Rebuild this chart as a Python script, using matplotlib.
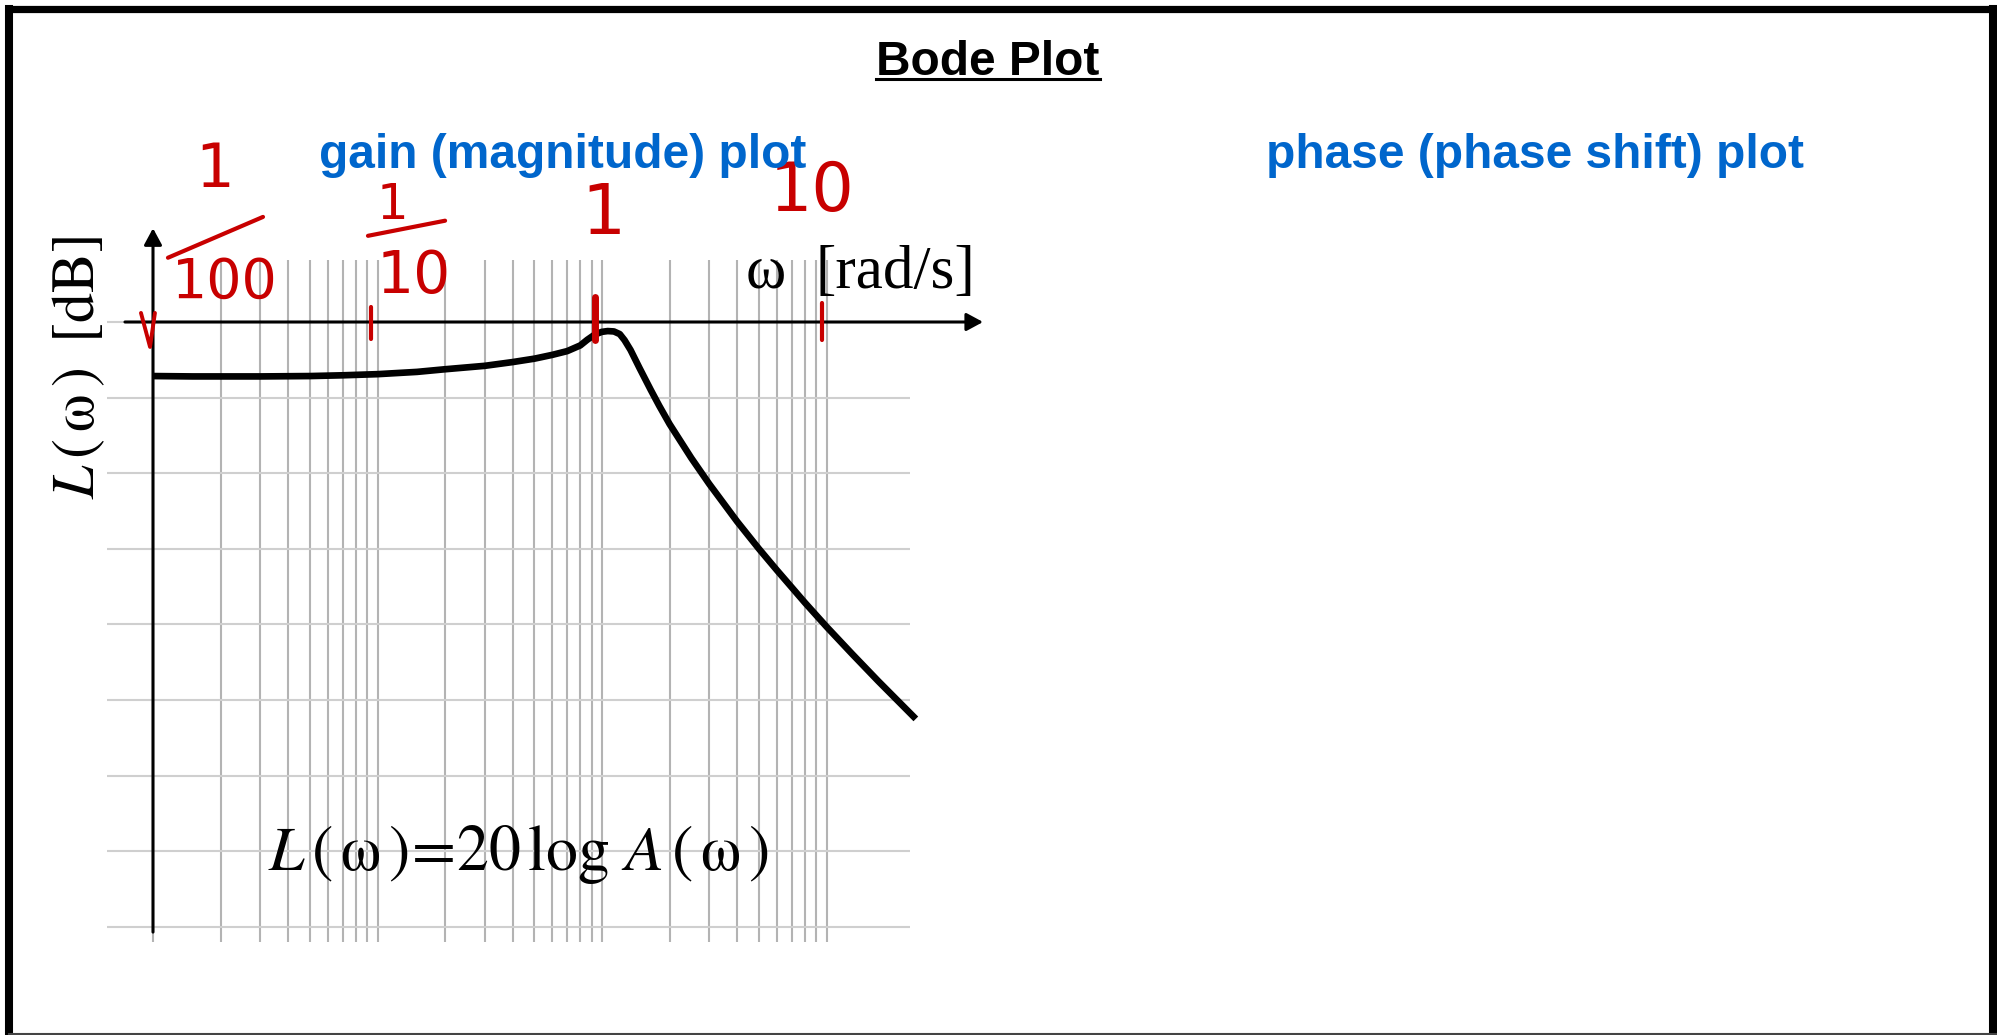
import matplotlib
matplotlib.use("Agg")
import matplotlib.pyplot as plt
from matplotlib.lines import Line2D

plt.rcParams["mathtext.fontset"] = "stix"

# ---- data ---------------------------------------------------------------
# gain curve L(ω) in dB over angular frequency ω (rad/s)
omega = [0.01, 0.015, 0.02, 0.03, 0.05, 0.07, 0.1, 0.15, 0.2, 0.3, 0.4, 0.5,
         0.6, 0.7, 0.8, 0.86, 0.93, 1.0, 1.06, 1.13, 1.2, 1.26, 1.34, 1.47,
         1.65, 1.8, 2.0, 2.5, 3.0, 4.0, 5.0, 6.0, 7.0, 8.0, 10.0, 13.0, 17.0,
         25.0]
gain_db = [-7.15, -7.2, -7.2, -7.2, -7.15, -7.05, -6.9, -6.6, -6.25, -5.8,
           -5.3, -4.85, -4.35, -3.85, -3.1, -2.35, -1.65, -1.3, -1.2, -1.25,
           -1.6, -2.4, -3.7, -6.1, -9.0, -11.1, -13.5, -18.0, -21.4, -26.4,
           -30.0, -32.8, -35.1, -37.1, -40.3, -43.9, -47.5, -52.5]

decades = [0.01, 0.1, 1, 10]                  # decade lines of the log grid
grid_db = [0, -10, -20, -30, -40, -50, -60, -70, -80]

# hand-written decade labels (text, ω, dB, size)
hand_labels = [("1", 0.0189, 20.1, 44), ("100", 0.0209, 5.2, 40),
               ("1", 0.116, 15.5, 36), ("10", 0.1454, 6.0, 42),
               ("1", 1.01, 14.2, 50), ("10", 8.62, 17.2, 48)]
# fraction bars of the hand-written labels: (ω0, ω1, dB0, dB1)
hand_bars = [(0.01166, 0.0309, 8.5, 13.9), (0.0907, 0.2, 11.4, 13.4)]
# hand-drawn tick strokes on the ω axis: (ω list, dB list, width)
hand_ticks = [([0.00884, 0.0097, 0.0102], [1.2, -3.3, 1.2], 2.8),
              ([0.0935, 0.0935], [2.0, -2.2], 3.0),
              ([0.93, 0.93], [3.3, -2.4], 5.0),
              ([9.55, 9.55], [2.5, -2.4], 3.0)]

W, H = 1997, 1035
BLUE = "#0066cc"
RED = "#c80000"

fig = plt.figure(figsize=(W / 100, H / 100), dpi=100)
renderer = fig.canvas.get_renderer()


def fx(px):
    return px / W


def fy(py):
    return 1 - py / H


# axes holding the gain plot: ω from 0.01 to 10, L from 0 to -80 dB
ax = fig.add_axes([fx(153), fy(926.8), fx(826.5) - fx(153), fy(322) - fy(926.8)])
ax.set_xscale("log")
ax.set_xlim(decades[0], decades[-1])
ax.set_ylim(grid_db[-1], grid_db[0])
ax.axis("off")

# logarithmic grid
vx = [k * d for d in decades[:-1] for k in range(1, 10)] + [decades[-1]]
ax.vlines(vx, -82.0, 8.2, colors="#b3b3b3", lw=1.5, clip_on=False, zorder=1)
ax.hlines(grid_db, 0.00624, 23.5, colors="#cfcfcf", lw=1.5, clip_on=False, zorder=1)

# axes with arrow heads
arrow = dict(arrowstyle="-|>,head_length=0.5,head_width=0.27", color="black",
             lw=2.2, shrinkA=0, shrinkB=0, mutation_scale=20)
ax.annotate("", xy=(49.8, 0), xytext=(0.0075, 0), arrowprops=arrow,
            annotation_clip=False, zorder=3)
ax.annotate("", xy=(0.01, 12.4), xytext=(0.01, -80.7), arrowprops=arrow,
            annotation_clip=False, zorder=3)

# gain curve
ax.plot(omega, gain_db, color="black", lw=4.8, clip_on=False,
        solid_capstyle="butt", solid_joinstyle="round", zorder=4)

# axis titles and formula
fig.text(fx(746), fy(288), "ω", family="Liberation Serif", fontsize=44,
         ha="left", va="baseline")
fig.text(fx(815), fy(288), "[rad/s]", family="Liberation Serif", fontsize=44,
         ha="left", va="baseline")
fig.text(fx(78), fy(368), r"$L\,(\,\mathrm{\omega}\,)\;\;[\mathrm{dB}]$",
         fontsize=43, rotation=90, ha="center", va="center")
fig.text(fx(518), fy(870),
         r"$L\,(\,\mathrm{\omega}\,)\!=\!20\,\log\,A\,(\,\mathrm{\omega}\,)$",
         fontsize=46, ha="center", va="baseline")

# red hand annotations
for txt, w, db, size in hand_labels:
    ax.text(w, db, txt, color=RED, fontsize=size, family="DejaVu Sans",
            ha="center", va="center", clip_on=False, zorder=5)
for w0, w1, d0, d1 in hand_bars:
    ax.plot([w0, w1], [d0, d1], color=RED, lw=3.0, clip_on=False,
            solid_capstyle="round", zorder=5)
for ws, ds, lw in hand_ticks:
    ax.plot(ws, ds, color=RED, lw=lw, clip_on=False,
            solid_capstyle="round", zorder=5)

# headings
title = fig.text(fx(988), fy(75), "Bode Plot", family="Liberation Sans",
                 fontweight="bold", fontsize=34.5, ha="center", va="baseline")
fig.text(fx(563), fy(168), "gain (magnitude) plot", family="Liberation Sans",
         fontweight="bold", fontsize=34.5, color=BLUE, ha="center", va="baseline")
fig.text(fx(1535), fy(168), "phase (phase shift) plot", family="Liberation Sans",
         fontweight="bold", fontsize=34.5, color=BLUE, ha="center", va="baseline")

# underline under the main heading
bb = title.get_window_extent(renderer=renderer).transformed(fig.transFigure.inverted())
fig.add_artist(Line2D([bb.x0, bb.x1], [fy(79), fy(79)], color="black", lw=2.2,
                      transform=fig.transFigure))

# slide frame
frame = dict(color="black", transform=fig.transFigure, solid_capstyle="projecting")
fig.add_artist(Line2D([fx(9), fx(9)], [fy(9), fy(1035)], lw=5.8, **frame))
fig.add_artist(Line2D([fx(9), fx(1997)], [fy(8.5), fy(8.5)], lw=5.2, **frame))
fig.add_artist(Line2D([fx(1993), fx(1993)], [fy(8.5), fy(1035)], lw=5.8, **frame))
fig.add_artist(Line2D([fx(9), fx(1997)], [fy(1033.8), fy(1033.8)], lw=1.5,
                      color="#444444", transform=fig.transFigure))

fig.savefig("out.png", dpi=100, facecolor="white")
